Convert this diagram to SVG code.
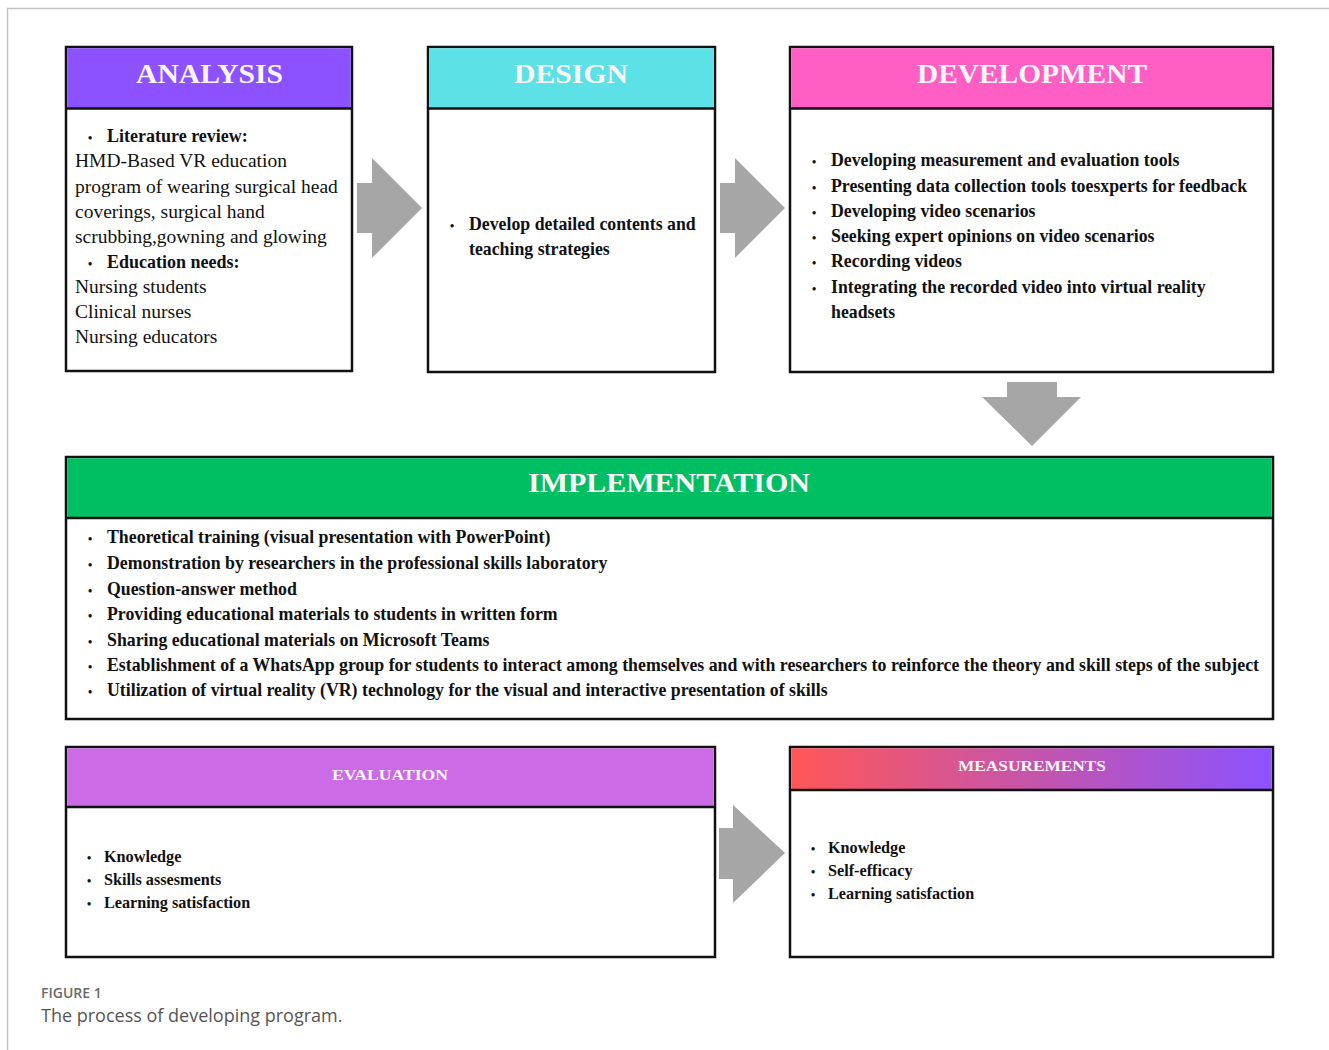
<svg xmlns="http://www.w3.org/2000/svg" width="1329" height="1050" viewBox="0 0 1329 1050">
  <defs>
    <linearGradient id="measGrad" x1="0" y1="0" x2="1" y2="0">
      <stop offset="0" stop-color="#ff5757"/>
      <stop offset="1" stop-color="#8c52ff"/>
    </linearGradient>
    <style>
      .box { fill: #ffffff; stroke: #111111; stroke-width: 2.5; }
      .sep { stroke: #111111; stroke-width: 2.5; }
      .title { font-family: "Liberation Serif", "Times New Roman", serif; font-weight: bold; fill: #fbf5f8; text-anchor: middle; }
      .big { font-size: 27px; }
      .small { font-size: 15px; }
      .body { font-family: "Liberation Serif", "Times New Roman", serif; fill: #111111; }
      .reg { font-size: 19.5px; }
      .lbl { font-weight: bold; font-size: 18px; }
      .bold { font-weight: bold; font-size: 17.8px; }
      .bold16 { font-weight: bold; font-size: 16.2px; }
      .dot { font-size: 12px; font-weight: bold; }
      .arrow { fill: #a6a6a6; }
      .cap1 { font-family: "Open Sans", "Noto Sans", sans-serif; font-size: 14px; font-weight: 600; fill: #6a6a6a; }
      .cap2 { font-family: "Open Sans", "Noto Sans", sans-serif; font-size: 18px; fill: #555555; }
    </style>
  </defs>

  <rect width="1329" height="1050" fill="#ffffff"/>
  <!-- page frame -->
  <path d="M7.5 1050 V8.5 H1329" fill="none" stroke="#c4c4c4" stroke-width="1.5"/>

  <!-- ANALYSIS -->
  <g id="analysis">
    <rect class="box" x="66" y="47" width="286" height="324"/>
    <rect x="67.25" y="48.25" width="283.5" height="60" fill="#8c52ff"/>
    <line class="sep" x1="66" y1="108.5" x2="352" y2="108.5"/>
    <text class="title big" x="209.5" y="83" textLength="147" lengthAdjust="spacingAndGlyphs">ANALYSIS</text>
    <g class="body">
      <text class="dot" x="88" y="142">•</text>
      <text class="lbl" x="107" y="142">Literature review:</text>
      <text class="reg" x="75" y="167">HMD-Based VR education</text>
      <text class="reg" x="75" y="192.5">program of wearing surgical head</text>
      <text class="reg" x="75" y="218">coverings, surgical hand</text>
      <text class="reg" x="75" y="243">scrubbing,gowning and glowing</text>
      <text class="dot" x="88" y="268">•</text>
      <text class="lbl" x="107" y="268">Education needs:</text>
      <text class="reg" x="75" y="293">Nursing students</text>
      <text class="reg" x="75" y="318">Clinical nurses</text>
      <text class="reg" x="75" y="343">Nursing educators</text>
    </g>
  </g>

  <!-- DESIGN -->
  <g id="design">
    <rect class="box" x="428" y="47" width="287" height="325"/>
    <rect x="429.25" y="48.25" width="284.5" height="60" fill="#5ce1e6"/>
    <line class="sep" x1="428" y1="108.5" x2="715" y2="108.5"/>
    <text class="title big" x="571" y="83" textLength="114" lengthAdjust="spacingAndGlyphs">DESIGN</text>
    <g class="body">
      <text class="dot" x="450" y="230">•</text>
      <text class="bold" x="469" y="230">Develop detailed contents and</text>
      <text class="bold" x="469" y="255">teaching strategies</text>
    </g>
  </g>

  <!-- DEVELOPMENT -->
  <g id="development">
    <rect class="box" x="790" y="47" width="483" height="325"/>
    <rect x="791.25" y="48.25" width="480.5" height="60" fill="#ff5ec4"/>
    <line class="sep" x1="790" y1="108.5" x2="1273" y2="108.5"/>
    <text class="title big" x="1032" y="83" textLength="230" lengthAdjust="spacingAndGlyphs">DEVELOPMENT</text>
    <g class="body">
      <text class="dot" x="812" y="166">•</text>
      <text class="bold" x="831" y="166">Developing measurement and evaluation tools</text>
      <text class="dot" x="812" y="192">•</text>
      <text class="bold" x="831" y="192">Presenting data collection tools toesxperts for feedback</text>
      <text class="dot" x="812" y="217">•</text>
      <text class="bold" x="831" y="217">Developing video scenarios</text>
      <text class="dot" x="812" y="242">•</text>
      <text class="bold" x="831" y="242">Seeking expert opinions on video scenarios</text>
      <text class="dot" x="812" y="267">•</text>
      <text class="bold" x="831" y="267">Recording videos</text>
      <text class="dot" x="812" y="293">•</text>
      <text class="bold" x="831" y="293">Integrating the recorded video into virtual reality</text>
      <text class="bold" x="831" y="318">headsets</text>
    </g>
  </g>

  <!-- IMPLEMENTATION -->
  <g id="implementation">
    <rect class="box" x="66" y="457" width="1207" height="262"/>
    <rect x="67.25" y="458.25" width="1204.5" height="59" fill="#00bf63"/>
    <line class="sep" x1="66" y1="518" x2="1273" y2="518"/>
    <text class="title big" x="669" y="492" textLength="282" lengthAdjust="spacingAndGlyphs">IMPLEMENTATION</text>
    <g class="body">
      <text class="dot" x="88" y="543">•</text>
      <text class="bold" x="107" y="543">Theoretical training (visual presentation with PowerPoint)</text>
      <text class="dot" x="88" y="569">•</text>
      <text class="bold" x="107" y="569">Demonstration by researchers in the professional skills laboratory</text>
      <text class="dot" x="88" y="595">•</text>
      <text class="bold" x="107" y="595">Question-answer method</text>
      <text class="dot" x="88" y="620">•</text>
      <text class="bold" x="107" y="620">Providing educational materials to students in written form</text>
      <text class="dot" x="88" y="646">•</text>
      <text class="bold" x="107" y="646">Sharing educational materials on Microsoft Teams</text>
      <text class="dot" x="88" y="671">•</text>
      <text class="bold" x="107" y="671" textLength="1152" lengthAdjust="spacingAndGlyphs">Establishment of a WhatsApp group for students to interact among themselves and with researchers to reinforce the theory and skill steps of the subject</text>
      <text class="dot" x="88" y="696">•</text>
      <text class="bold" x="107" y="696">Utilization of virtual reality (VR) technology for the visual and interactive presentation of skills</text>
    </g>
  </g>

  <!-- EVALUATION -->
  <g id="evaluation">
    <rect class="box" x="66" y="747" width="649" height="210"/>
    <rect x="67.25" y="748.25" width="646.5" height="58" fill="#cb6ce6"/>
    <line class="sep" x1="66" y1="807" x2="715" y2="807"/>
    <text class="title small" x="390" y="780" textLength="116" lengthAdjust="spacingAndGlyphs">EVALUATION</text>
    <g class="body">
      <text class="dot" x="87" y="862">•</text>
      <text class="bold16" x="104" y="862">Knowledge</text>
      <text class="dot" x="87" y="885">•</text>
      <text class="bold16" x="104" y="885">Skills assesments</text>
      <text class="dot" x="87" y="908">•</text>
      <text class="bold16" x="104" y="908">Learning satisfaction</text>
    </g>
  </g>

  <!-- MEASUREMENTS -->
  <g id="measurements">
    <rect class="box" x="790" y="747" width="483" height="210"/>
    <rect x="791.25" y="748.25" width="480.5" height="41.5" fill="url(#measGrad)"/>
    <line class="sep" x1="790" y1="790" x2="1273" y2="790"/>
    <text class="title small" x="1032" y="771" textLength="148" lengthAdjust="spacingAndGlyphs">MEASUREMENTS</text>
    <g class="body">
      <text class="dot" x="811" y="853">•</text>
      <text class="bold16" x="828" y="853">Knowledge</text>
      <text class="dot" x="811" y="876">•</text>
      <text class="bold16" x="828" y="876">Self-efficacy</text>
      <text class="dot" x="811" y="899">•</text>
      <text class="bold16" x="828" y="899">Learning satisfaction</text>
    </g>
  </g>

  <!-- block arrows between stages -->
  <g id="connectors">
    <polygon class="arrow" points="357,183 372,183 372,158 422,208 372,258 372,233 357,233"/>
    <polygon class="arrow" points="720,183 735,183 735,158 785,208 735,258 735,233 720,233"/>
    <polygon class="arrow" points="1007,382 1057,382 1057,397 1081,397 1032,446 982,397 1007,397"/>
    <polygon class="arrow" points="719,828 733,828 733,805 785,853 733,903 733,879 719,879"/>
  </g>

  <!-- caption -->
  <text class="cap1" x="41" y="998">FIGURE 1</text>
  <text class="cap2" x="41" y="1022">The process of developing program.</text>
</svg>
